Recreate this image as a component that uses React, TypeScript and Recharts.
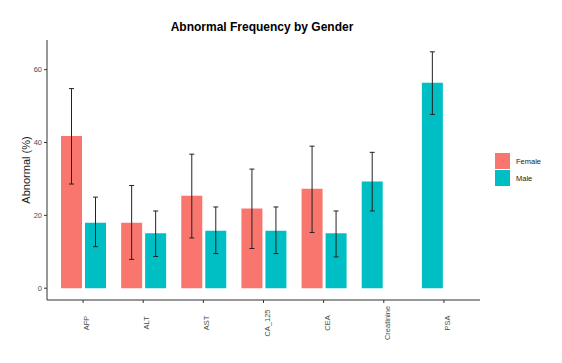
import { BarChart, Bar, XAxis, YAxis, ErrorBar, Cell } from "recharts";

const tests = ["AFP", "ALT", "AST", "CA_125", "CEA", "Creatinine", "PSA"];
const femalePct = [41.8, 18.0, 25.4, 21.9, 27.3, null, null];
const femaleLow = [28.6, 7.9, 13.8, 10.9, 15.3, null, null];
const femaleHigh = [54.8, 28.2, 36.8, 32.7, 39.0, null, null];
const malePct = [18.0, 15.1, 15.8, 15.8, 15.1, 29.3, 56.4];
const maleLow = [11.4, 8.7, 9.5, 9.5, 8.6, 21.2, 47.7];
const maleHigh = [25.0, 21.2, 22.3, 22.3, 21.2, 37.3, 64.9];
const yTicks = [0, 20, 40, 60];

const FEMALE = "#F8766D";
const MALE = "#00BFC4";
const FONT = "'Liberation Sans', Arial, sans-serif";

// ggplot dodge with preserve="single": a lone male bar takes the left slot
const data = tests.map((t, i) => {
  const f = femalePct[i];
  const m = malePct[i];
  const hasF = f != null;
  return {
    test: t,
    left: hasF ? f : m,
    leftErr: hasF
      ? [f - (femaleLow[i] as number), (femaleHigh[i] as number) - f]
      : [m - maleLow[i], maleHigh[i] - m],
    leftColor: hasF ? FEMALE : MALE,
    right: hasF ? m : null,
    rightErr: hasF ? [m - maleLow[i], maleHigh[i] - m] : null,
  };
});

// ggplot default 5% expansion
const hiMax = Math.max(...maleHigh, ...(femaleHigh.filter((v) => v != null) as number[]));
const yDomain = [-hiMax * 0.05, hiMax * 1.05];

const XTick = (props: any) => {
  const { x, payload } = props;
  const cx = x + 3.5;
  const cy = 323;
  return (
    <text
      x={cx}
      y={cy}
      transform={`rotate(-90, ${cx}, ${cy})`}
      textAnchor="middle"
      dominantBaseline="central"
      fontSize={7.5}
      fill="#4D4D4D"
    >
      {payload.value}
    </text>
  );
};

export default function App() {
  return (
    <div
      style={{
        position: "fixed",
        left: 0,
        top: 0,
        width: 562,
        height: 363,
        background: "#fff",
        fontFamily: FONT,
      }}
    >
      <BarChart
        width={562}
        height={363}
        data={data}
        barSize={21}
        barGap={3}
        margin={{ top: 40, right: 82, bottom: 33, left: 0 }}
      >
        <XAxis
          dataKey="test"
          height={30}
          padding={{ left: 6, right: 6 }}
          axisLine={{ stroke: "#333", strokeWidth: 1 }}
          tickLine={{ stroke: "#333" }}
          tickSize={3}
          tick={<XTick />}
          interval={0}
        />
        <YAxis
          type="number"
          width={47}
          domain={yDomain}
          ticks={yTicks}
          allowDataOverflow
          axisLine={{ stroke: "#333", strokeWidth: 1 }}
          tickLine={{ stroke: "#333" }}
          tickSize={3}
          tickMargin={2}
          tick={{ fill: "#4D4D4D", fontSize: 7.5 }}
        />
        <Bar dataKey="left" isAnimationActive={false}>
          {data.map((d, i) => (
            <Cell key={i} fill={d.leftColor} />
          ))}
          <ErrorBar
            dataKey="leftErr"
            width={2.5}
            stroke="#222"
            strokeWidth={1}
            isAnimationActive={false}
          />
        </Bar>
        <Bar dataKey="right" fill={MALE} isAnimationActive={false}>
          <ErrorBar
            dataKey="rightErr"
            width={2.5}
            stroke="#222"
            strokeWidth={1}
            isAnimationActive={false}
          />
        </Bar>
      </BarChart>

      <div
        style={{
          position: "absolute",
          left: 262,
          top: 21,
          transform: "translateX(-50%)",
          fontSize: 12,
          lineHeight: "12px",
          fontWeight: "bold",
          whiteSpace: "nowrap",
          color: "#000",
        }}
      >
        Abnormal Frequency by Gender
      </div>

      <div
        style={{
          position: "absolute",
          left: 26,
          top: 170,
          transform: "translate(-50%, -50%) rotate(-90deg)",
          fontSize: 11,
          whiteSpace: "nowrap",
          color: "#1a1a1a",
        }}
      >
        Abnormal (%)
      </div>

      {[
        { label: "Female", color: FEMALE, top: 153 },
        { label: "Male", color: MALE, top: 170 },
      ].map((it) => (
        <div
          key={it.label}
          style={{
            position: "absolute",
            left: 495,
            top: it.top,
            height: 16,
            display: "flex",
            alignItems: "center",
          }}
        >
          <div style={{ width: 15, height: 16, background: it.color }} />
          <span style={{ marginLeft: 6, fontSize: 7.5, color: "#1a1a1a" }}>
            {it.label}
          </span>
        </div>
      ))}
    </div>
  );
}
